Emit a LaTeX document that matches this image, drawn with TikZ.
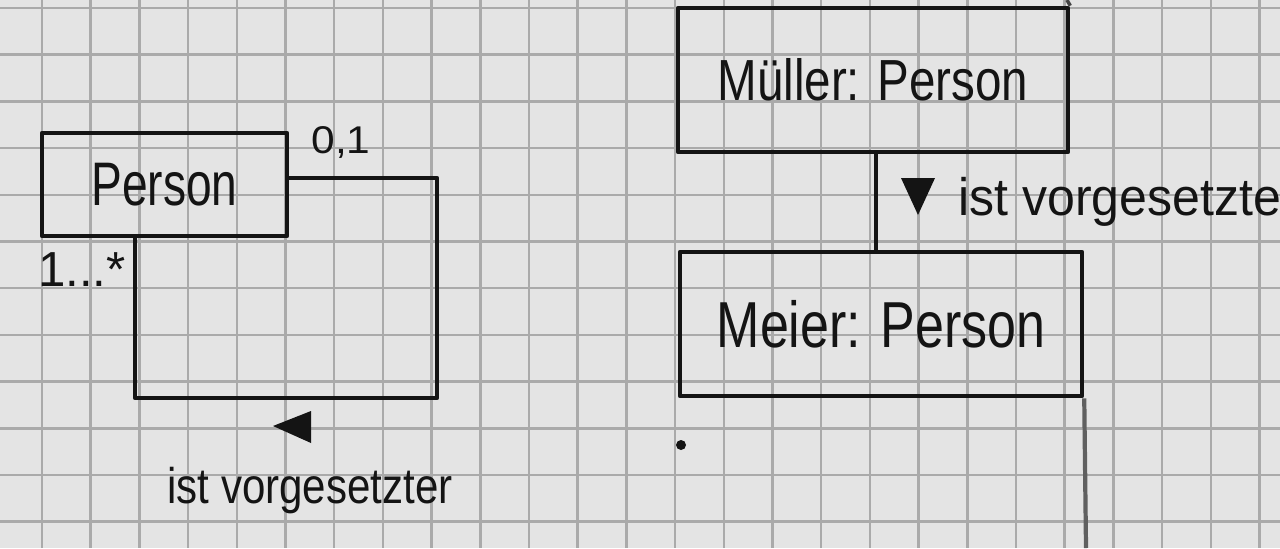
\documentclass[tikz,border=0pt]{standalone}
\usepackage{fontspec}
\setmainfont{Liberation Sans}
\definecolor{paper}{RGB}{228,228,228}
\definecolor{gridc}{RGB}{170,170,170}
\definecolor{ink}{RGB}{20,20,20}
\newcommand\handtext[2]{\scalebox{#1}[1]{#2}}
\begin{document}
\begin{tikzpicture}[x=0.02cm,y=-0.02cm,
  ink line/.style={draw=ink, line width=2.6pt, line cap=round, line join=round},
  objbox/.style={ink line, rectangle, inner sep=0pt, text=ink},
  lbl/.style={inner sep=0pt, text=ink},
  gridline/.style={draw=gridc, line width=1.4pt}]
\useasboundingbox (0,0) rectangle (1280,548);
\fill[paper] (0,0) rectangle (1280,548);
% squared paper
\foreach \k in {0,...,25} \draw[gridline] ({42+48.7*\k},0) -- ++(0,548);
\foreach \k in {0,...,11} \draw[gridline] (0,{8+46.7*\k}) -- ++(1280,0);

% ---------- class diagram (left) ----------
\node[objbox, minimum width=4.9cm, minimum height=2.06cm,
      font=\fontsize{35}{40}\selectfont] (person) at (164.5,184.5) {\handtext{0.75}{Person}};
\coordinate (sa1) at (437,178);
\coordinate (sa2) at (437,398);
\coordinate (sa3) at (135,398);
\draw[ink line] (person.east |- sa1) -- (sa1) -- (sa2) -- (sa3) -- (sa3 |- person.south);
\node[lbl, font=\fontsize{22}{26}\selectfont] (m01) at (341,142) {\handtext{1.1}{0,1}};
\node[lbl, font=\fontsize{28}{32}\selectfont] (m1n) at (82,270) {\handtext{1.0}{1...*}};
\fill[ink] (273,426) -- (311,411) -- (311,443) -- cycle;
\node[lbl, anchor=base, font=\fontsize{28.5}{32}\selectfont] (assocL) at (310,503) {\handtext{0.84}{ist vorgesetzter}};

% ---------- object diagram (right) ----------
\node[objbox, minimum width=7.8cm, minimum height=2.88cm,
      font=\fontsize{33}{38}\selectfont] (mueller) at (873,80) {\handtext{0.82}{Müller: Person}};
\node[objbox, minimum width=8.04cm, minimum height=2.88cm,
      font=\fontsize{37}{42}\selectfont] (meier) at (881,324) {\handtext{0.8}{Meier: Person}};
\coordinate (link) at (876,0);
\draw[ink line] (mueller.south -| link) -- (meier.north -| link);
\fill[ink] (901,178) -- (935,178) -- (918,215) -- cycle;
\node[lbl, anchor=base west, font=\fontsize{30}{34}\selectfont] (assocR) at (958,215) {\handtext{0.95}{ist vorgesetzte}};

% paper marks
\draw[draw=ink!80, line width=2pt] (mueller.north east) -- (1067,0);
\draw[draw=gray!75!black, line width=2.4pt] (meier.south east) -- (1086,548);
\fill[ink] (681,445) circle (5);
\end{tikzpicture}
\end{document}
